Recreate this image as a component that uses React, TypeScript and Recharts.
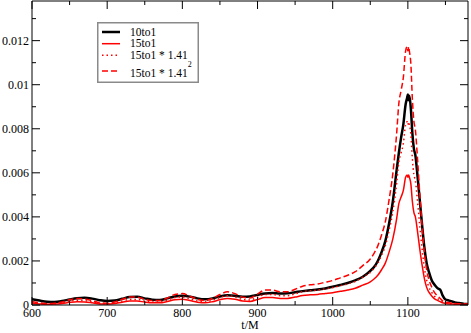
import React from "react"
import { Line, LineChart, XAxis, YAxis } from "recharts"

const times = [
  600, 610, 620, 630, 640, 650, 660, 670, 680, 690,
  700, 710, 720, 730, 740, 750, 760, 770, 780, 790,
  800, 810, 820, 830, 840, 850, 860, 870, 880, 890,
  900, 910, 920, 930, 940, 950, 960, 970, 980, 990,
  1000, 1010, 1020, 1030, 1040, 1050,
  1055, 1060, 1065, 1070, 1075, 1080, 1085, 1088, 1091, 1094,
  1097, 1099, 1100, 1101, 1102, 1104, 1106, 1108, 1110, 1113,
  1116, 1119, 1122, 1125, 1128, 1132, 1136, 1140, 1143, 1146,
  1150, 1155, 1160, 1165, 1170, 1175, 1180,
]

const tenToOne = [
  0.00026, 0.0002, 0.00015, 0.00014, 0.00018, 0.00025, 0.00031, 0.00033, 0.00029, 0.00022,
  0.00018, 0.0002, 0.00028, 0.00036, 0.00037, 0.0003, 0.00024, 0.00023, 0.0003, 0.00039,
  0.00042, 0.00038, 0.0003, 0.00026, 0.0003, 0.00039, 0.00044, 0.00042, 0.00038, 0.00039,
  0.00046, 0.00052, 0.00054, 0.00052, 0.00053, 0.00058, 0.00063, 0.00067, 0.0007, 0.00075,
  0.00083, 0.00091, 0.001, 0.00112, 0.00128, 0.00155,
  0.00172, 0.002, 0.0024, 0.0029, 0.0037, 0.0047, 0.0061, 0.0069, 0.0076, 0.0082,
  0.0091, 0.0094, 0.00955, 0.0093, 0.0095, 0.0089, 0.0078, 0.0071, 0.0068, 0.0058,
  0.0047, 0.0036, 0.0026, 0.0019, 0.0015, 0.0011, 0.0009, 0.00075, 0.0007, 0.00045,
  0.00025, 0.0002, 0.00015, 0.0001, 0.00008, 0.00005, 0.00004,
]

const fifteenToOne = [
  0.00008, 0.00005, 0.00003, 0.00004, 0.00007, 0.00012, 0.00015, 0.00014, 0.0001, 0.00005,
  0.00004, 0.00007, 0.00013, 0.00018, 0.00018, 0.00013, 0.0001, 0.0001, 0.00016, 0.00024,
  0.00026, 0.0002, 0.00013, 0.0001, 0.00015, 0.00024, 0.0003, 0.00026, 0.00018, 0.00016,
  0.00025, 0.00034, 0.00034, 0.0003, 0.0003, 0.00036, 0.00043, 0.00046, 0.00048, 0.00052,
  0.00056, 0.00062, 0.00068, 0.00076, 0.0009, 0.00105,
  0.00118, 0.00135, 0.0016, 0.0019, 0.0024, 0.003, 0.0039, 0.0046, 0.0049, 0.0052,
  0.0058, 0.0059, 0.0058, 0.0059, 0.0058, 0.0055, 0.0047, 0.0042, 0.004, 0.0033,
  0.0025, 0.0018, 0.0012, 0.0008, 0.00058, 0.0004, 0.00027, 0.0002, 0.00015, 0.0001,
  0.00007, 0.00005, 0.00004, 0.00003, 0.00003, 0.00002, 0.00002,
]

// 15to1 * 1.41
const fifteenScaled = [
  0.000113, 0.000071, 0.000042, 0.000056, 0.000099, 0.000169, 0.000212, 0.000197, 0.000141, 0.000071,
  0.000056, 0.000099, 0.000183, 0.000254, 0.000254, 0.000183, 0.000141, 0.000141, 0.000226, 0.000338,
  0.000367, 0.000282, 0.000183, 0.000141, 0.000212, 0.000338, 0.000423, 0.000367, 0.000254, 0.000226,
  0.000353, 0.000479, 0.000479, 0.000423, 0.000423, 0.000508, 0.000606, 0.000649, 0.000677, 0.000733,
  0.00079, 0.000874, 0.000959, 0.001072, 0.001269, 0.00148,
  0.001664, 0.001904, 0.002256, 0.002679, 0.003384, 0.00423, 0.005499, 0.006486, 0.006909, 0.007332,
  0.008178, 0.008319, 0.008178, 0.008319, 0.008178, 0.007755, 0.006627, 0.005922, 0.00564, 0.004653,
  0.003525, 0.002538, 0.001692, 0.001128, 0.000818, 0.000564, 0.000381, 0.000282, 0.000212, 0.000141,
  0.000099, 0.000071, 0.000056, 0.000042, 0.000042, 0.000028, 0.000028,
]

// 15to1 * 1.41^2
const fifteenScaledSq = [
  0.000159, 0.000099, 0.00006, 0.00008, 0.000139, 0.000239, 0.000298, 0.000278, 0.000199, 0.000099,
  0.00008, 0.000139, 0.000258, 0.000358, 0.000358, 0.000258, 0.000199, 0.000199, 0.000318, 0.000477,
  0.000517, 0.000398, 0.000258, 0.000199, 0.000298, 0.000477, 0.000596, 0.000517, 0.000358, 0.000318,
  0.000497, 0.000676, 0.000676, 0.000596, 0.000596, 0.000716, 0.000855, 0.000914, 0.000954, 0.001034,
  0.001113, 0.001233, 0.001352, 0.001511, 0.001789, 0.002087,
  0.002346, 0.002684, 0.003181, 0.003777, 0.004771, 0.005964, 0.007753, 0.009145, 0.009741, 0.010338,
  0.01153, 0.011729, 0.01153, 0.011729, 0.01153, 0.010934, 0.009344, 0.00835, 0.007952, 0.00656,
  0.00497, 0.003578, 0.002386, 0.00159, 0.001153, 0.000795, 0.000537, 0.000398, 0.000298, 0.000199,
  0.000139, 0.000099, 0.00008, 0.00006, 0.00006, 0.00004, 0.00004,
]

const xTicks = [600, 650, 700, 750, 800, 850, 900, 950, 1000, 1050, 1100, 1150]
const yTicks = [0, 0.001, 0.002, 0.003, 0.004, 0.005, 0.006, 0.007, 0.008, 0.009, 0.01, 0.011, 0.012, 0.013]

const data = times.map((t, i) => ({
  t,
  a: tenToOne[i],
  b: fifteenToOne[i],
  c: fifteenScaled[i],
  d: fifteenScaledSq[i],
}))

const FONT = "Liberation Serif, Times New Roman, serif"

const isMajorX = (v: number) => v % 100 === 0
const isMajorY = (v: number) => Math.round(v * 1000) % 2 === 0
const fmtY = (v: number) => (v === 0 ? "0" : String(+v.toFixed(3)))

// ticks point inward, xmgrace style
const BottomTick = ({ x, y, payload }: any) => {
  const major = isMajorX(payload.value)
  return (
    <g>
      <line x1={x} x2={x} y1={y} y2={y - (major ? 8 : 4)} stroke="#000" />
      {major && (
        <text x={x} y={y + 12} textAnchor="middle" fontSize={12} style={{ fontFamily: FONT }} fill="#000">
          {payload.value}
        </text>
      )}
    </g>
  )
}

const TopTick = ({ x, y, payload }: any) => (
  <line x1={x} x2={x} y1={y} y2={y + (isMajorX(payload.value) ? 8 : 4)} stroke="#000" />
)

const LeftTick = ({ x, y, payload }: any) => {
  const major = isMajorY(payload.value)
  return (
    <g>
      <line x1={x} x2={x + (major ? 8 : 4)} y1={y} y2={y} stroke="#000" />
      {major && (
        <text x={x - 3} y={y + 4} textAnchor="end" fontSize={12} style={{ fontFamily: FONT }} fill="#000">
          {fmtY(payload.value)}
        </text>
      )}
    </g>
  )
}

const RightTick = ({ x, y, payload }: any) => (
  <line x1={x} x2={x - (isMajorY(payload.value) ? 8 : 4)} y1={y} y2={y} stroke="#000" />
)

const AxisTitle = ({ viewBox }: any) => (
  <text
    x={viewBox.x + viewBox.width / 2}
    y={viewBox.y + 24}
    textAnchor="middle"
    fontSize={12}
    style={{ fontFamily: FONT }}
    fill="#000"
  >
    t/M
  </text>
)

function LegendBox() {
  const rows = [
    { y: 10, ty: 13.5, stroke: "#000", width: 2.5, dash: undefined, label: "10to1" },
    { y: 21.7, ty: 25, stroke: "#ff0000", width: 1.5, dash: undefined, label: "15to1" },
    { y: 33.3, ty: 37, stroke: "#ff0000", width: 1.5, dash: "1.5 3", label: "15to1 * 1.41" },
  ]
  return (
    <svg width={102} height={61} style={{ position: "absolute", left: 97, top: 22, fontFamily: FONT }}>
      <rect x={0.75} y={0.75} width={100.5} height={59.5} fill="#fff" stroke="#8a8a8a" strokeWidth={1.5} />
      {rows.map((r) => (
        <g key={r.label}>
          <line x1={5} x2={23} y1={r.y} y2={r.y} stroke={r.stroke} strokeWidth={r.width} strokeDasharray={r.dash} />
          <text x={33} y={r.ty} fontSize={11.5} fill="#000">
            {r.label}
          </text>
        </g>
      ))}
      <line x1={5} x2={23} y1={49} y2={49} stroke="#ff0000" strokeWidth={1.5} strokeDasharray="6 3" />
      <text x={33} y={55} fontSize={11.5} fill="#000">
        15to1 * 1.41
        <tspan dy={-10} fontSize={8}>2</tspan>
      </text>
    </svg>
  )
}

export default function App() {
  return (
    <div style={{ position: "absolute", left: 0, top: 0, width: 471, height: 333, background: "#fff" }}>
      <LineChart width={471} height={333} data={data} margin={{ top: 0, right: 2, bottom: 0, left: 0 }}>
        <XAxis
          dataKey="t"
          type="number"
          domain={[600, 1180]}
          ticks={xTicks}
          interval={0}
          allowDataOverflow
          height={28}
          tickSize={0}
          tickMargin={0}
          tickLine={false}
          axisLine={{ stroke: "#000" }}
          tick={BottomTick}
          label={AxisTitle}
        />
        <XAxis
          xAxisId="top"
          orientation="top"
          dataKey="t"
          type="number"
          domain={[600, 1180]}
          ticks={xTicks}
          interval={0}
          allowDataOverflow
          height={1}
          tickSize={0}
          tickMargin={0}
          tickLine={false}
          axisLine={{ stroke: "#000" }}
          tick={TopTick}
        />
        <YAxis
          type="number"
          domain={[0, 0.0138]}
          ticks={yTicks}
          interval={0}
          allowDataOverflow
          width={32}
          tickSize={0}
          tickMargin={0}
          tickLine={false}
          axisLine={{ stroke: "#000" }}
          tick={LeftTick}
        />
        <YAxis
          yAxisId="right"
          orientation="right"
          type="number"
          domain={[0, 0.0138]}
          ticks={yTicks}
          interval={0}
          allowDataOverflow
          width={1}
          tickSize={0}
          tickMargin={0}
          tickLine={false}
          axisLine={{ stroke: "#000" }}
          tick={RightTick}
        />
        <Line type="monotone" dataKey="a" name="10to1" stroke="#000" strokeWidth={2.5} dot={false} isAnimationActive={false} />
        <Line type="monotone" dataKey="b" name="15to1" stroke="#ff0000" strokeWidth={1.5} dot={false} isAnimationActive={false} />
        <Line
          type="monotone"
          dataKey="c"
          name="15to1 * 1.41"
          stroke="#ff0000"
          strokeWidth={1.5}
          strokeDasharray="1.5 3"
          dot={false}
          isAnimationActive={false}
        />
        <Line
          type="monotone"
          dataKey="d"
          name="15to1 * 1.41^2"
          xAxisId="top"
          yAxisId="right"
          stroke="#ff0000"
          strokeWidth={1.5}
          strokeDasharray="6 3"
          dot={false}
          isAnimationActive={false}
        />
      </LineChart>
      <LegendBox />
    </div>
  )
}
